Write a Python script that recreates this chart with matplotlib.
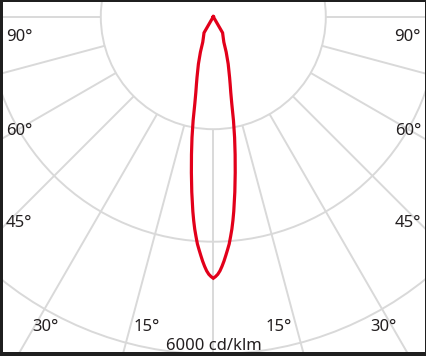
import numpy as np
import matplotlib
matplotlib.use("Agg")
import matplotlib.pyplot as plt
from matplotlib.patches import Circle

# ---- data (cd/klm) ----
gamma_deg = [0, 0.5, 1, 1.5, 2, 2.5, 3, 3.5, 4, 4.5, 5, 5.5, 6, 7, 8, 9,
             10, 11, 12, 13, 14, 15, 17.5, 20, 22.5, 25, 30, 35, 40, 45,
             50, 55, 60, 65, 70, 75, 80, 85, 90]
intensity_c0 = [4650, 4620, 4580, 4520, 4440, 4350, 4250, 4150, 4050, 3920,
                3790, 3640, 3480, 3140, 2800, 2480, 2180, 1880, 1580, 1380,
                1240, 1120, 880, 670, 490, 420, 330, 0, 0, 0, 0, 0, 0, 0, 0,
                0, 0, 0, 0]
intensity_c180 = [4650, 4620, 4580, 4520, 4440, 4350, 4250, 4150, 4050, 3920,
                  3790, 3640, 3480, 3140, 2800, 2480, 2180, 1880, 1580, 1380,
                  1240, 1120, 880, 670, 490, 420, 330, 0, 0, 0, 0, 0, 0, 0,
                  0, 0, 0, 0, 0]
ring_values = [2000, 4000, 6000]
spoke_angles = [0, 15, 30, 45, 60, 75, 90]
scale_label = "6000 cd/klm"

# ---- figure geometry ----
W, H = 427, 356
k = 112.5 / 2000.0          # pixels per cd/klm
cx, cy = 213.3, 16.7        # polar centre in pixels (from top-left)

fig = plt.figure(figsize=(W / 100, H / 100), dpi=100)
fig.patch.set_facecolor("#1f1f1f")
left_px, right_px, top_px, bot_px = 3, 425, 2, 352
ax = fig.add_axes([left_px / W, 1 - bot_px / H,
                   (right_px - left_px) / W, (bot_px - top_px) / H])
ax.set_xlim((left_px - cx) / k, (right_px - cx) / k)
ax.set_ylim(-(bot_px - cy) / k, -(top_px - cy) / k)
ax.set_aspect("auto")
ax.axis("off")
ax.add_patch(plt.Rectangle((0, 0), 1, 1, transform=ax.transAxes,
                           facecolor="white", edgecolor="none", zorder=0))

grid_col = "#d9d9d9"
grid_lw = 1.4
for rv in ring_values:
    ax.add_patch(Circle((0, 0), rv, fill=False, edgecolor=grid_col,
                        linewidth=grid_lw, zorder=1))
r_in, r_out = ring_values[0], 20000
for a in spoke_angles:
    t = np.deg2rad(a)
    for s in ([1] if a == 0 else [-1, 1]):
        ax.plot([s * r_in * np.sin(t), s * r_out * np.sin(t)],
                [-r_in * np.cos(t), -r_out * np.cos(t)],
                color=grid_col, linewidth=grid_lw, zorder=1,
                solid_capstyle="butt")

# ---- intensity curve ----
g = np.deg2rad(np.array(gamma_deg, dtype=float))
iL = np.array(intensity_c180, dtype=float)
iR = np.array(intensity_c0, dtype=float)
xs = np.concatenate([(-iL * np.sin(g))[::-1], (iR * np.sin(g))[1:]])
ys = np.concatenate([(-iL * np.cos(g))[::-1], (-iR * np.cos(g))[1:]])
ax.plot(xs, ys, color="#e2001a", linewidth=2.3, zorder=3,
        solid_joinstyle="miter")

# ---- labels ----
fam = ["Noto Sans", "DejaVu Sans"]
tcol = "#231f20"
fs = 12


def ftxt(x, y, s, ha):
    fig.text(x / W, 1 - y / H, s, ha=ha, va="baseline", fontsize=fs,
             family=fam, color=tcol)


ftxt(6, 41, "90°", "left")
ftxt(421, 41, "90°", "right")
ftxt(6, 135, "60°", "left")
ftxt(421, 135, "60°", "right")
ftxt(6, 227, "45°", "left")
ftxt(421, 227, "45°", "right")
ftxt(32, 331, "30°", "left")
ftxt(397, 331, "30°", "right")
ftxt(134, 331, "15°", "left")
ftxt(292, 331, "15°", "right")
ftxt(214, 350, scale_label, "center")

fig.savefig("out.png", dpi=100, facecolor=fig.get_facecolor())
